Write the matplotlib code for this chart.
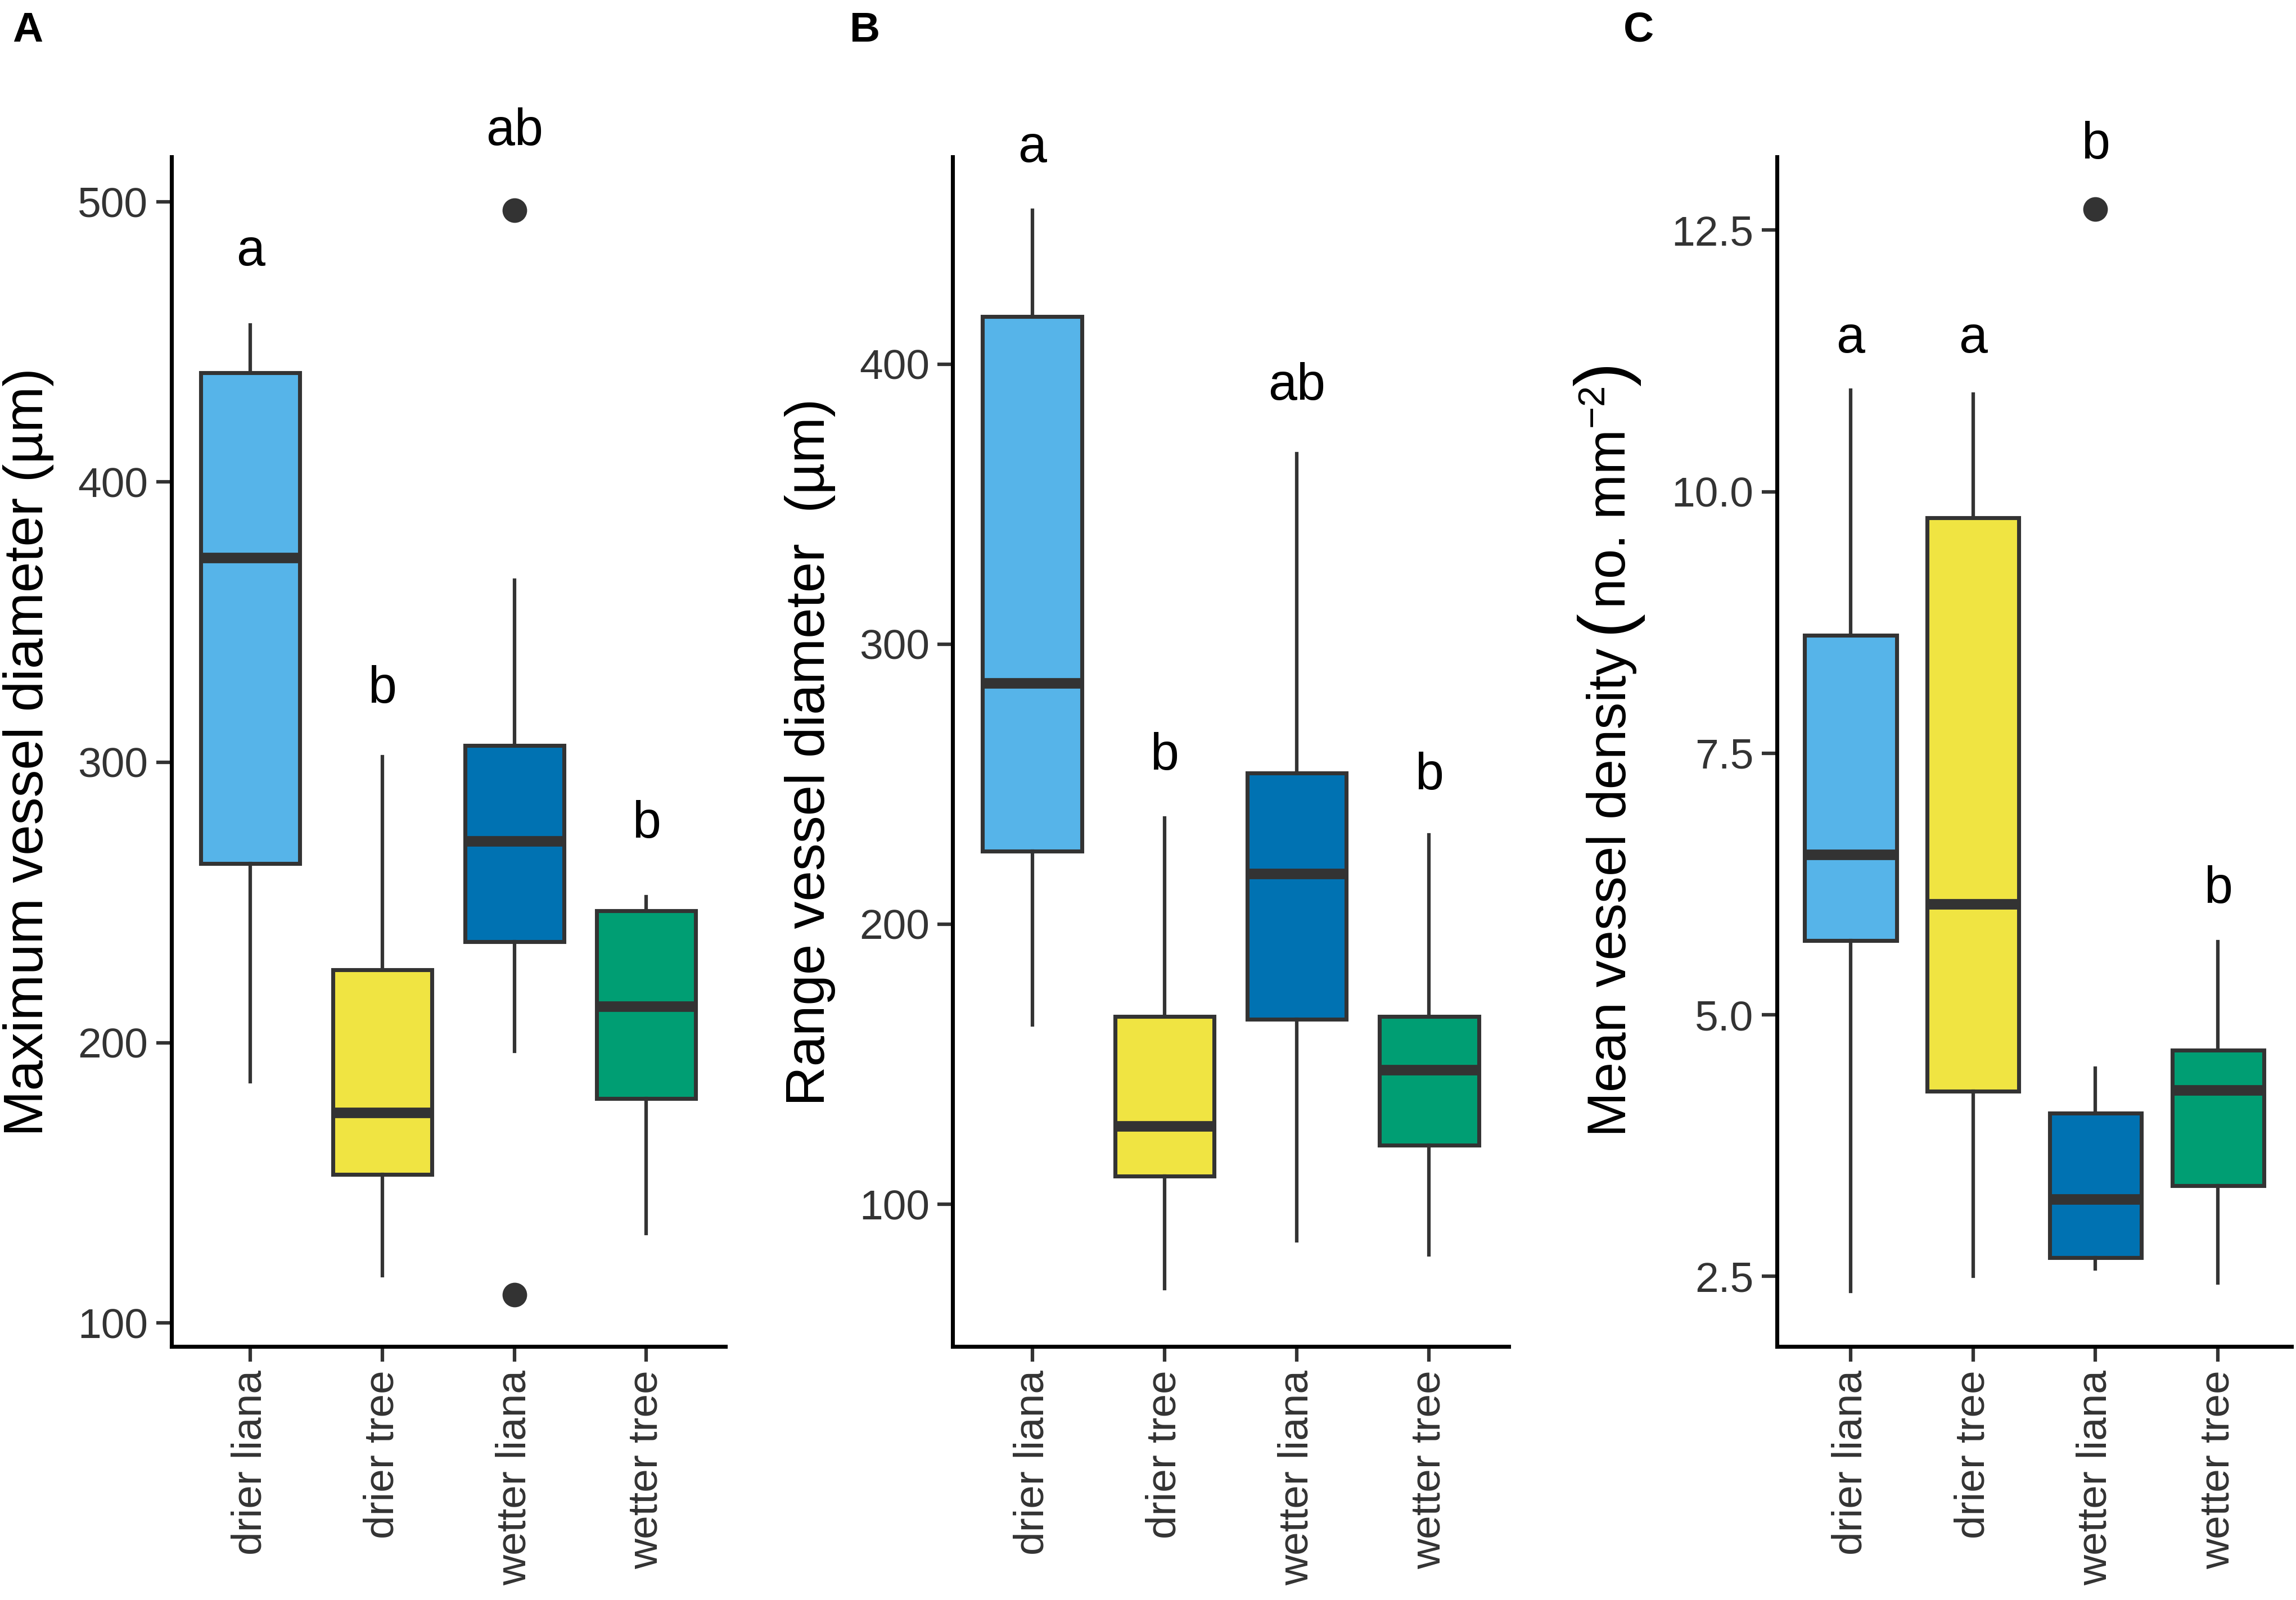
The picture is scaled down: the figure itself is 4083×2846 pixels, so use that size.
import numpy as np
import matplotlib.pyplot as plt

groups = ["drier liana", "drier tree", "wetter liana", "wetter tree"]
colors = ["#56B4E9", "#F0E442", "#0072B2", "#009E73"]

# panel A: maximum vessel diameter
a_whislo = [186, 117, 197, 132]
a_q1     = [264, 153, 236, 180]
a_med    = [373, 175, 272, 213]
a_q3     = [439, 226, 306, 247]
a_whishi = [456, 302, 365, 252]
a_fliers = [[], [], [497, 110], []]
a_letters = ["a", "b", "ab", "b"]
a_letter_y = [482, 326, 525, 278]

# panel B: range vessel diameter
b_whislo = [164, 70, 87, 82]
b_q1     = [226, 110, 166, 121]
b_med    = [286, 128, 218, 148]
b_q3     = [417, 167, 254, 167]
b_whishi = [455, 238, 368, 232]
b_fliers = [[], [], [], []]
b_letters = ["a", "b", "ab", "b"]
b_letter_y = [477, 260, 392, 253]

# panel C: mean vessel density
c_whislo = [2.36, 2.50, 2.57, 2.44]
c_q1     = [5.71, 4.27, 2.68, 3.37]
c_med    = [6.53, 6.06, 3.24, 4.28]
c_q3     = [8.63, 9.75, 4.06, 4.66]
c_whishi = [10.97, 10.93, 4.49, 5.70]
c_fliers = [[], [], [12.7], []]
c_letters = ["a", "a", "b", "b"]
c_letter_y = [11.46, 11.46, 13.31, 6.20]

plt.rcParams.update({
    "font.family": "Liberation Sans",
    "mathtext.fontset": "custom",
    "mathtext.rm": "Liberation Sans",
    "mathtext.it": "Liberation Sans:italic",
    "axes.linewidth": 1.7,
    "xtick.major.width": 1.5,
    "ytick.major.width": 1.5,
    "xtick.major.size": 6.5,
    "ytick.major.size": 6.5,
})

fig = plt.figure(figsize=(4083 / 300, 2846 / 300), dpi=300)

panels = [
    dict(left=0.0746, right=0.316, lo=a_whislo, q1=a_q1, med=a_med, q3=a_q3, hi=a_whishi,
         fl=a_fliers, let=a_letters, ly=a_letter_y, ylim=(91.6, 516), yticks=[100, 200, 300, 400, 500],
         fmt="{:.0f}", ylabel="Maximum vessel diameter (µm)", lx=0.0235, tag="A", tx=0.0055),
    dict(left=0.415, right=0.657, lo=b_whislo, q1=b_q1, med=b_med, q3=b_q3, hi=b_whishi,
         fl=b_fliers, let=b_letters, ly=b_letter_y, ylim=(49.2, 474), yticks=[100, 200, 300, 400],
         fmt="{:.0f}", ylabel="Range vessel diameter  (µm)", lx=0.364, tag="B", tx=0.370),
    dict(left=0.774, right=0.998, lo=c_whislo, q1=c_q1, med=c_med, q3=c_q3, hi=c_whishi,
         fl=c_fliers, let=c_letters, ly=c_letter_y, ylim=(1.83, 13.2), yticks=[2.5, 5.0, 7.5, 10.0, 12.5],
         fmt="{:.1f}", ylabel=None, lx=0.708, tag="C", tx=0.707),
]

for p in panels:
    ax = fig.add_axes([p["left"], 0.1584, p["right"] - p["left"], 0.902 - 0.1584])
    stats = []
    for i in range(len(groups)):
        stats.append(dict(whislo=p["lo"][i], q1=p["q1"][i], med=p["med"][i], q3=p["q3"][i],
                          whishi=p["hi"][i], fliers=p["fl"][i]))
    x = np.arange(1, len(groups) + 1)
    bp = ax.bxp(stats, positions=x, widths=0.75, patch_artist=True, showcaps=False,
                boxprops=dict(edgecolor="#333333", linewidth=1.7),
                medianprops=dict(color="#333333", linewidth=4.5, solid_capstyle="butt"),
                whiskerprops=dict(color="#333333", linewidth=1.5),
                flierprops=dict(marker="o", markerfacecolor="#333333", markeredgecolor="#333333",
                                markersize=9.5))
    for patch, c in zip(bp["boxes"], colors):
        patch.set_facecolor(c)

    for xi, t, yv in zip(x, p["let"], p["ly"]):
        ax.text(xi, yv, t, ha="center", va="center", fontsize=22, color="black")

    ax.set_xlim(0.4, 4.6)
    ax.set_ylim(*p["ylim"])
    ax.set_yticks(p["yticks"])
    ax.set_yticklabels([p["fmt"].format(v) for v in p["yticks"]], fontsize=18, color="#333333")
    ax.set_xticks(x)
    ax.set_xticklabels(groups, rotation=90, fontsize=18, color="#333333")
    ax.tick_params(colors="#333333")
    for s in ["top", "right"]:
        ax.spines[s].set_visible(False)
    if p["ylabel"]:
        ax.set_ylabel(p["ylabel"], fontsize=23.5)
        ax.yaxis.set_label_coords(p["lx"], 0.53, transform=fig.transFigure)
    fig.text(p["tx"], 0.981, p["tag"], fontsize=18, fontweight="bold", ha="left", va="center")

# panel C y label with tall brackets, built from pieces
pieces = [("Mean vessel density ", 23), ("(", 31), ("no. mm$^{-2}$", 23), (")", 31)]
fig.canvas.draw()
renderer = fig.canvas.get_renderer()
fig_h = fig.bbox.height
texts = []
for s, fs in pieces:
    t = fig.text(panels[2]["lx"], 0, s, fontsize=fs, rotation=90, rotation_mode="anchor",
                 ha="left", va="baseline")
    texts.append(t)
lengths = [t.get_window_extent(renderer).height / fig_h for t in texts]
total = sum(lengths)
y = 0.5316 - total / 2
for t, L in zip(texts, lengths):
    t.set_position((panels[2]["lx"], y))
    y += L

plt.savefig("out.png", dpi=300)
